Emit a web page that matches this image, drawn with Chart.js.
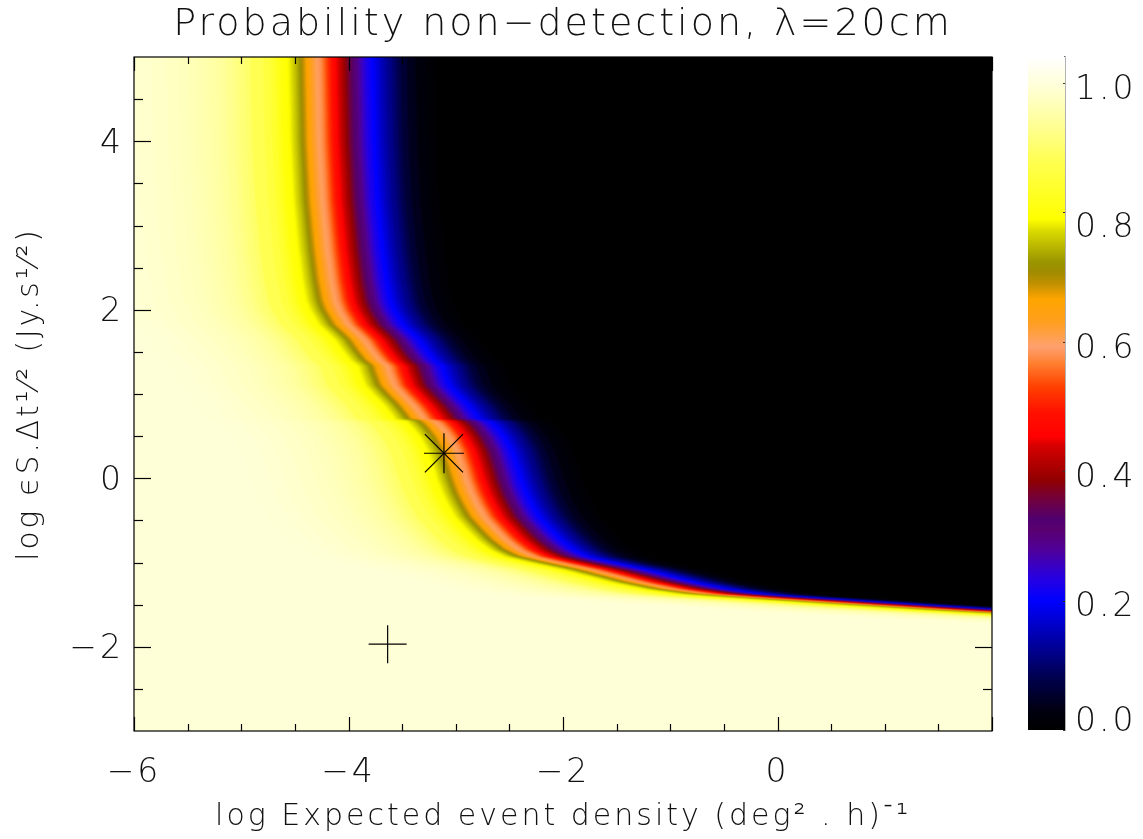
<!DOCTYPE html>
<html>
<head>
<meta charset="utf-8">
<title>Probability non-detection</title>
<script src="https://cdn.jsdelivr.net/npm/chart.js@4"></script>
<style>
  html, body { margin: 0; padding: 0; background: #fff; }
  #plot { position: absolute; left: 0; top: 0; }
  #bar { position: absolute; left: 1000px; top: 0; }
</style>
</head>
<body>
<canvas id="plot" width="1143" height="839"></canvas>
<canvas id="bar" width="143" height="839"></canvas>
<script>
// red ridge of the map (P about 0.45)
const ridgeX = [-4.10, -4.098, -4.08, -4.051, -4.005, -3.967, -3.93, -3.893, -3.81, -3.725, -3.66, -3.594, -3.52, -3.445,
  -3.43, -3.38, -3.296, -3.203, -3.128, -3.10, -2.998, -2.94, -2.867, -2.80, -2.746, -2.709, -2.662, -2.606, -2.54, -2.429,
  -2.336, -2.214, -2.075, -1.84, -1.534, -1.282, -1.068, -0.751, -0.415, -0.042, 0.956, 2.0, 3.0, 4.0, 5.0, 6.0];
const ridgeY = [6, 5.0, 4.0, 3.30, 2.71, 2.35, 2.11, 1.99, 1.82, 1.72, 1.64, 1.52, 1.40, 1.33,
  1.26, 1.10, 0.985, 0.866, 0.748, 0.69, 0.677, 0.605, 0.487, 0.332, 0.13, -0.024, -0.178, -0.32, -0.463, -0.617,
  -0.736, -0.855, -0.938, -1.009, -1.092, -1.175, -1.246, -1.329, -1.389, -1.424, -1.507, -1.59, -1.66, -1.72, -1.77, -1.82];

// map levels and how far each one sits from the ridge, in log density
const levels = [0.995, 0.9925, 0.99, 0.985, 0.98, 0.975, 0.97, 0.965, 0.96, 0.955, 0.95, 0.945, 0.94, 0.93, 0.92, 0.91, 0.90, 0.88, 0.86, 0.84, 0.82, 0.80,
  0.79, 0.78, 0.77, 0.76, 0.75, 0.74, 0.73, 0.72, 0.71, 0.70, 0.69, 0.68, 0.67, 0.66, 0.65, 0.64,
  0.62, 0.60, 0.58, 0.56, 0.54, 0.52, 0.50, 0.48, 0.46, 0.44, 0.42, 0.40, 0.38, 0.36, 0.34, 0.32,
  0.30, 0.28, 0.26, 0.24, 0.22, 0.20, 0.18, 0.16, 0.14, 0.12, 0.10, 0.08, 0.06, 0.04, 0.02, 0.01];
const levelOffsets = [-2.20, -2.02, -1.88, -1.74, -1.60, -1.49, -1.40, -1.33, -1.26, -1.20, -1.14, -1.10, -1.05, -0.98, -0.93, -0.87, -0.82, -0.70, -0.63, -0.58, -0.54, -0.49,
  -0.46, -0.44, -0.42, -0.405, -0.39, -0.375, -0.365, -0.355, -0.345, -0.33, -0.32, -0.31, -0.295, -0.28, -0.265, -0.25,
  -0.215, -0.18, -0.15, -0.125, -0.105, -0.085, -0.065, -0.04, -0.012, 0.012, 0.036, 0.06, 0.084, 0.107, 0.131, 0.155,
  0.179, 0.203, 0.23, 0.26, 0.30, 0.34, 0.375, 0.41, 0.45, 0.50, 0.54, 0.58, 0.64, 0.72, 0.82, 0.90];

// colour table
const barValues = [0, 0.03, 0.082, 0.134, 0.2, 0.236, 0.278, 0.309, 0.325, 0.355, 0.386, 0.44, 0.453, 0.49, 0.53, 0.567, 0.592,
  0.629, 0.665, 0.69, 0.708, 0.723, 0.77, 0.79, 0.807, 0.878, 0.93, 0.98, 1.0, 1.04];
const barColors = ['#000000', '#000010', '#000050', '#0000a0', '#0000ff', '#2800e0', '#50009a', '#5a0070', '#500070', '#700040', '#900000', '#d80000',
  '#ff0000', '#ff1000', '#ff4000', '#ff8030', '#ffa070', '#ff9f20', '#ffa500', '#c09000', '#a08c00', '#9a9500', '#d8d800', '#ffff00', '#ffff10', '#ffff50', '#ffff90',
  '#ffffc8', '#ffffdc', '#ffffff'];
const barTicks = [0, 0.2, 0.4, 0.6, 0.8, 1.0];
const barTickLabels = ['0.0', '0.2', '0.4', '0.6', '0.8', '1.0'];
const barLabelAt = [0.017, 0.195, 0.394, 0.594, 0.78, 0.994];

// the two markers
const starPoint = { x: -3.11, y: 0.297 };
const plusPoint = { x: -3.635, y: -1.97 };

const xLabelled = [-6, -4, -2, 0];
const xMajor = [-6, -4, -2, 0, 2];
const xMinor = [-5.5, -5, -4.5, -3.5, -3, -2.5, -1.5, -1, -0.5, 0.5, 1, 1.5];
const yMajor = [-2, 0, 2, 4];
const yMinor = [-2.5, -1.5, -1, -0.5, 0.5, 1, 1.5, 2.5, 3, 3.5, 4.5];

const FONT = '"DejaVu Sans ExtraLight", "DejaVu Sans Light", Lato, "DejaVu Sans"';

function hex(c) {
  return [1, 3, 5].map(i => parseInt(c.slice(i, i + 2), 16));
}

function colorAt(v) {
  let i = 1;
  while (i < barValues.length - 1 && barValues[i] < v) i++;
  const t = (v - barValues[i - 1]) / (barValues[i] - barValues[i - 1]);
  const a = hex(barColors[i - 1]), b = hex(barColors[i]);
  return 'rgb(' + a.map((c, k) => Math.round(c + (b[k] - c) * t)).join(',') + ')';
}

// one closed shape per level: everything left of / below that level's curve
function levelShape(off) {
  const pts = [{ x: -12, y: 6 }];
  ridgeX.forEach((x, i) => pts.push({ x: x + off, y: ridgeY[i] }));
  pts.push({ x: 12, y: ridgeY[ridgeY.length - 1] }, { x: 12, y: -6 }, { x: -12, y: -6 });
  return pts;
}

const levelSets = levels.map((v, i) => ({
  data: levelShape(levelOffsets[i]),
  showLine: true,
  fill: 'shape',
  backgroundColor: colorAt(v),
  borderColor: 'transparent',
  borderWidth: 0,
  pointRadius: 0
}));

function markerSet(point, style, size) {
  return {
    data: [point],
    pointStyle: style,
    pointRadius: size,
    pointBorderColor: '#000',
    pointBorderWidth: 1.2,
    showLine: false
  };
}

const MARKER_SETS = 3;

// inward tick marks on all four sides, placed through the chart's scales
const boxTicks = {
  id: 'boxTicks',
  beforeDraw(chart) {
    chart.ctx.letterSpacing = '3px';
  },
  beforeDatasetsDraw(chart) {
    const a = chart.chartArea;
    chart.ctx.fillStyle = '#000';
    chart.ctx.fillRect(a.left, a.top, a.width, a.height);
    // slight blur hides the steps between the level shapes
    chart.ctx.filter = 'blur(1px)';
  },
  beforeDatasetDraw(chart, args) {
    if (args.index < MARKER_SETS) chart.ctx.filter = 'none';
  },
  afterDatasetsDraw(chart) {
    const { ctx, chartArea: a, scales } = chart;
    ctx.filter = 'none';
    const line = (x1, y1, x2, y2) => {
      ctx.beginPath();
      ctx.moveTo(x1, y1);
      ctx.lineTo(x2, y2);
      ctx.stroke();
    };
    ctx.save();
    ctx.strokeStyle = '#000';
    ctx.lineWidth = 1.2;
    const xTick = (v, len) => {
      const p = Math.round(scales.x.getPixelForValue(v)) + 0.5;
      line(p, a.bottom, p, a.bottom - len);
      line(p, a.top, p, a.top + len);
    };
    const yTick = (v, len) => {
      const p = Math.round(scales.y.getPixelForValue(v)) + 0.5;
      line(a.left, p, a.left + len, p);
      line(a.right, p, a.right - len, p);
    };
    xMajor.forEach(v => xTick(v, 14));
    xMinor.forEach(v => xTick(v, 7));
    yMajor.forEach(v => yTick(v, 17));
    yMinor.forEach(v => yTick(v, 9));
    ctx.strokeRect(a.left, a.top, a.width, a.height);
    ctx.restore();
  }
};

new Chart(document.getElementById('plot'), {
  type: 'scatter',
  data: {
    datasets: [
      markerSet(starPoint, 'cross', 20),
      markerSet(starPoint, 'crossRot', 27),
      markerSet(plusPoint, 'cross', 19)
    ].concat(levelSets)
  },
  options: {
    responsive: false,
    animation: false,
    events: [],
    layout: { padding: { left: 0, right: 151, top: 0, bottom: 0 } },
    plugins: {
      legend: { display: false },
      tooltip: { enabled: false },
      title: {
        display: true,
        fullSize: false,
        text: 'Probability non\u2212detection, \u03bb=20cm',
        color: '#111',
        font: { family: FONT, size: 38, weight: 'normal', lineHeight: 1 },
        padding: { top: 6, bottom: 13 }
      }
    },
    scales: {
      x: {
        type: 'linear',
        min: -6,
        max: 2,
        grid: { display: false },
        border: { display: false },
        afterBuildTicks(s) { s.ticks = xLabelled.map(v => ({ value: v })); },
        afterFit(s) { s.height = 108; },
        ticks: {
          color: '#111',
          maxRotation: 0,
          padding: 15,
          font: { family: FONT, size: 33 },
          callback: v => String(v).replace('-', '\u2212')
        },
        title: {
          display: true,
          text: 'log Expected event density (deg\u00b2 . h)\u207b\u00b9',
          color: '#111',
          font: { family: FONT, size: 30 },
          padding: { top: 0, bottom: 4 }
        }
      },
      y: {
        min: -3,
        max: 5,
        grid: { display: false },
        border: { display: false },
        afterBuildTicks(s) { s.ticks = yMajor.map(v => ({ value: v })); },
        afterFit(s) { s.width = 134; },
        ticks: {
          color: '#111',
          padding: 2,
          labelOffset: 3,
          font: { family: FONT, size: 33 },
          callback: v => String(v).replace('-', '\u2212')
        },
        title: {
          display: true,
          text: 'log \u03f5S.\u0394t\u00b9\u2044\u00b2 (Jy.s\u00b9\u2044\u00b2)',
          color: '#111',
          font: { family: FONT, size: 29.5 },
          padding: { top: 13, bottom: 0 }
        }
      }
    }
  },
  plugins: [boxTicks]
});

// colour bar: one floating bar painted with the colour table
function barGradient(c) {
  const a = c.chart.chartArea;
  if (!a) return '#000';
  const g = c.chart.ctx.createLinearGradient(0, a.bottom, 0, a.top);
  barValues.forEach((v, i) => g.addColorStop(v / 1.04, barColors[i]));
  return g;
}

const barMarks = {
  id: 'barMarks',
  beforeDraw(chart) {
    chart.ctx.letterSpacing = '3px';
  },
  afterDatasetsDraw(chart) {
    const { ctx, chartArea: a, scales } = chart;
    ctx.save();
    ctx.strokeStyle = '#333';
    barTicks.forEach(v => {
      const p = Math.round(scales.y.getPixelForValue(v)) + 0.5;
      ctx.beginPath();
      ctx.moveTo(a.right - 2, p);
      ctx.lineTo(a.right, p);
      ctx.stroke();
    });
    ctx.restore();
  }
};

new Chart(document.getElementById('bar'), {
  type: 'bar',
  data: {
    labels: [''],
    datasets: [{
      data: [[0, 1.04]],
      backgroundColor: barGradient,
      borderWidth: 0,
      barPercentage: 1,
      categoryPercentage: 1
    }]
  },
  options: {
    responsive: false,
    animation: false,
    events: [],
    layout: { padding: { left: 28, right: 0, top: 57, bottom: 109 } },
    plugins: { legend: { display: false }, tooltip: { enabled: false } },
    scales: {
      x: { display: false },
      y: {
        position: 'right',
        min: 0,
        max: 1.04,
        grid: { display: false },
        border: { display: true, color: '#666', width: 1.5 },
        afterBuildTicks(s) { s.ticks = barLabelAt.map(v => ({ value: v })); },
        afterFit(s) { s.width = 78; },
        ticks: {
          color: '#111',
          padding: 2,
          labelOffset: 3.5,
          font: { family: FONT, size: 33 },
          callback: (v, i) => barTickLabels[i]
        }
      }
    }
  },
  plugins: [barMarks]
});
</script>
</body>
</html>
